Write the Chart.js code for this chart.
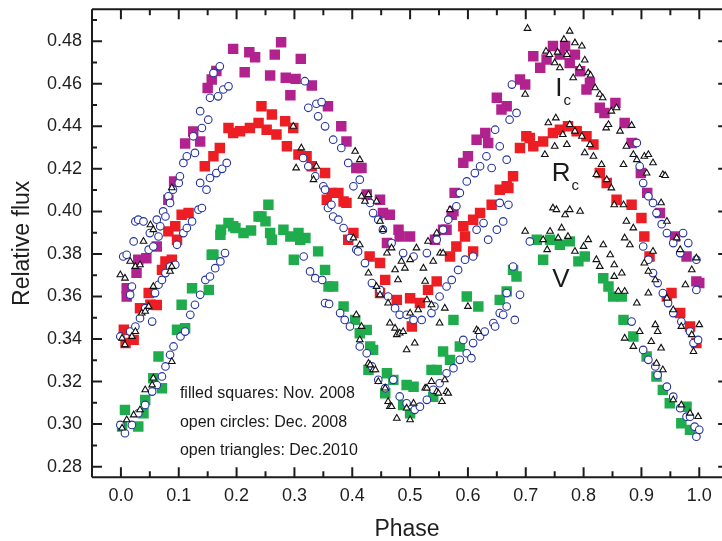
<!DOCTYPE html>
<html>
<head>
<meta charset="utf-8">
<script src="https://cdn.jsdelivr.net/npm/chart.js@4.4.1/dist/chart.umd.min.js"></script>
<style>
html,body{margin:0;padding:0;background:#fff;}
canvas{display:block;}
</style>
</head>
<body>
<canvas id="c" width="722" height="541"></canvas>
<script>
// ---------- axis ticks ----------
const xTickValues = [0.0,0.1,0.2,0.3,0.4,0.5,0.6,0.7,0.8,0.9,1.0];
const xTickLabels = ['0.0','0.1','0.2','0.3','0.4','0.5','0.6','0.7','0.8','0.9','1.0'];
const yTickValues = [0.28,0.30,0.32,0.34,0.36,0.38,0.40,0.42,0.44,0.46,0.48];
const yTickLabels = ['0.28','0.30','0.32','0.34','0.36','0.38','0.40','0.42','0.44','0.46','0.48'];
const xMinorValues = [0.05,0.15,0.25,0.35,0.45,0.55,0.65,0.75,0.85,0.95];
const yMinorValues = [0.29,0.31,0.33,0.35,0.37,0.39,0.41,0.43,0.45,0.47,0.49];

// ---------- filled squares: Nov. 2008 [phase, flux] ----------
const squaresIc = [[0.010,0.3600],[0.013,0.3616],[0.010,0.3639],[0.027,0.3711],[0.030,0.3773],[0.044,0.3780],[0.062,0.3835],[0.082,0.4055],[0.092,0.4141],[0.111,0.4319],[0.125,0.4376],[0.137,0.4329],[0.150,0.4580],[0.157,0.4620],[0.165,0.4660],[0.194,0.4764],[0.214,0.4654],[0.222,0.4748],[0.232,0.4725],[0.258,0.4639],[0.266,0.4737],[0.277,0.4795],[0.285,0.4628],[0.293,0.4546],[0.302,0.4623],[0.311,0.4717],[0.330,0.4592],[0.358,0.4494],[0.381,0.4400],[0.390,0.4329],[0.407,0.4204],[0.416,0.4204],[0.425,0.4079],[0.448,0.4055],[0.453,0.3992],[0.460,0.3851],[0.465,0.3984],[0.480,0.3914],[0.482,0.3882],[0.500,0.3882],[0.543,0.3867],[0.557,0.3914],[0.563,0.3914],[0.572,0.3984],[0.575,0.4000],[0.577,0.4087],[0.592,0.4228],[0.600,0.4259],[0.615,0.4337],[0.630,0.4369],[0.635,0.4322],[0.650,0.4534],[0.658,0.4479],[0.667,0.4494],[0.690,0.4620],[0.699,0.4596],[0.713,0.4729],[0.725,0.4675],[0.736,0.4714],[0.747,0.4777],[0.759,0.4737],[0.768,0.4777],[0.776,0.4698],[0.785,0.4737],[0.794,0.4659],[0.805,0.4573],[0.811,0.4604],[0.828,0.4487],[0.836,0.4463],[0.855,0.4510],[0.871,0.4416],[0.883,0.4322],[0.899,0.4180],[0.910,0.4087],[0.932,0.3992],[0.958,0.3882],[0.978,0.3788],[0.995,0.3671],[1.000,0.3663]];
const squaresRc = [[0.005,0.3444],[0.008,0.3381],[0.022,0.3396],[0.033,0.3545],[0.048,0.3616],[0.051,0.3561],[0.062,0.3560],[0.071,0.3725],[0.077,0.3765],[0.082,0.3906],[0.088,0.3773],[0.094,0.3930],[0.097,0.3867],[0.105,0.3984],[0.117,0.3992],[0.145,0.4212],[0.160,0.4259],[0.171,0.4298],[0.186,0.4392],[0.194,0.4369],[0.206,0.4377],[0.223,0.4392],[0.238,0.4416],[0.243,0.4494],[0.252,0.4384],[0.261,0.4455],[0.269,0.4361],[0.284,0.4424],[0.287,0.4306],[0.298,0.4392],[0.307,0.4267],[0.321,0.4259],[0.330,0.4212],[0.353,0.4180],[0.356,0.4055],[0.364,0.4087],[0.376,0.4087],[0.385,0.4047],[0.390,0.4040],[0.393,0.3867],[0.402,0.3898],[0.430,0.3788],[0.448,0.3757],[0.448,0.3616],[0.457,0.3678],[0.477,0.3584],[0.500,0.3592],[0.503,0.3459],[0.517,0.3569],[0.531,0.3631],[0.546,0.3671],[0.569,0.3788],[0.580,0.3835],[0.592,0.3930],[0.595,0.3882],[0.609,0.3812],[0.609,0.3961],[0.621,0.3992],[0.641,0.4031],[0.655,0.4102],[0.667,0.4118],[0.670,0.4110],[0.678,0.4165],[0.690,0.4298],[0.701,0.4353],[0.707,0.4345],[0.713,0.4306],[0.730,0.4329],[0.747,0.4369],[0.759,0.4384],[0.773,0.4400],[0.788,0.4377],[0.805,0.4353],[0.817,0.4314],[0.828,0.4180],[0.840,0.4133],[0.857,0.4055],[0.883,0.4031],[0.900,0.3969],[0.905,0.3882],[0.914,0.3788],[0.944,0.3600],[0.952,0.3616],[0.967,0.3522],[0.984,0.3459],[0.995,0.3381]];
const squaresV = [[0.002,0.2989],[0.007,0.3067],[0.030,0.2989],[0.039,0.3051],[0.042,0.3114],[0.056,0.3216],[0.065,0.3318],[0.071,0.3169],[0.097,0.3444],[0.105,0.3561],[0.111,0.3451],[0.123,0.3639],[0.152,0.3631],[0.157,0.3796],[0.160,0.3796],[0.172,0.3890],[0.173,0.3914],[0.186,0.3945],[0.194,0.3930],[0.198,0.3922],[0.212,0.3898],[0.225,0.3910],[0.238,0.3976],[0.243,0.3976],[0.250,0.3953],[0.255,0.4031],[0.258,0.3898],[0.261,0.3867],[0.281,0.3914],[0.293,0.3882],[0.299,0.3773],[0.307,0.3898],[0.310,0.3867],[0.319,0.3875],[0.341,0.3812],[0.353,0.3725],[0.359,0.3647],[0.367,0.3647],[0.385,0.3553],[0.405,0.3490],[0.413,0.3427],[0.425,0.3443],[0.428,0.3255],[0.431,0.3365],[0.436,0.3349],[0.457,0.3145],[0.460,0.3239],[0.471,0.3208],[0.488,0.3090],[0.494,0.3184],[0.500,0.3051],[0.506,0.3176],[0.537,0.3255],[0.540,0.3129],[0.546,0.3255],[0.557,0.3341],[0.569,0.3302],[0.575,0.3490],[0.586,0.3365],[0.598,0.3600],[0.618,0.3553],[0.655,0.3584],[0.667,0.3624],[0.678,0.3725],[0.684,0.3694],[0.719,0.3867],[0.730,0.3773],[0.742,0.3867],[0.759,0.3843],[0.776,0.3859],[0.791,0.3765],[0.802,0.3788],[0.834,0.3686],[0.843,0.3647],[0.851,0.3600],[0.866,0.3600],[0.869,0.3490],[0.886,0.3412],[0.909,0.3318],[0.926,0.3224],[0.937,0.3161],[0.949,0.3098],[0.969,0.3004],[0.978,0.3082],[0.984,0.2973]];

// ---------- open circles: Dec. 2008 ----------
const circlesIc = [[0.004,0.3788],[0.010,0.3796],[0.016,0.3608],[0.019,0.3647],[0.022,0.3859],[0.025,0.3953],[0.030,0.3961],[0.039,0.3953],[0.048,0.3820],[0.050,0.3898],[0.056,0.3835],[0.062,0.3961],[0.065,0.3882],[0.068,0.3930],[0.073,0.4000],[0.077,0.3976],[0.082,0.4071],[0.085,0.4040],[0.090,0.4102],[0.100,0.4134],[0.102,0.4165],[0.108,0.4228],[0.114,0.4259],[0.125,0.4353],[0.128,0.4275],[0.137,0.4471],[0.140,0.4392],[0.151,0.4431],[0.154,0.4534],[0.160,0.4651],[0.168,0.4541],[0.171,0.4682],[0.177,0.4573],[0.186,0.4588],[0.318,0.4612],[0.324,0.4487],[0.338,0.4506],[0.341,0.4447],[0.347,0.4514],[0.353,0.4400],[0.367,0.4337],[0.381,0.4298],[0.393,0.4228],[0.402,0.4118],[0.413,0.4149],[0.431,0.4040],[0.436,0.3992],[0.445,0.3961],[0.453,0.3914],[0.468,0.3851],[0.488,0.3804],[0.506,0.3788],[0.529,0.3804],[0.546,0.3867],[0.557,0.3914],[0.566,0.3961],[0.580,0.4024],[0.586,0.4087],[0.598,0.4141],[0.612,0.4180],[0.621,0.4212],[0.632,0.4259],[0.641,0.4204],[0.647,0.4384],[0.655,0.4306],[0.667,0.4243],[0.672,0.4431],[0.676,0.4596],[0.684,0.4463],[0.892,0.4322],[0.897,0.4212],[0.903,0.4133],[0.912,0.4071],[0.920,0.4040],[0.926,0.3992],[0.935,0.3940],[0.944,0.3898],[0.955,0.3851],[0.967,0.3804],[0.972,0.3898],[0.981,0.3851],[0.995,0.3773],[0.995,0.3631]];
const circlesRc = [[-0.001,0.3412],[0.016,0.3435],[0.025,0.3459],[0.033,0.3498],[0.042,0.3545],[0.054,0.3482],[0.059,0.3616],[0.065,0.3655],[0.071,0.3678],[0.077,0.3710],[0.085,0.3741],[0.094,0.3749],[0.097,0.3843],[0.108,0.3898],[0.114,0.3922],[0.123,0.3953],[0.134,0.4008],[0.137,0.4134],[0.140,0.4016],[0.148,0.4102],[0.154,0.4157],[0.165,0.4180],[0.175,0.4200],[0.183,0.4228],[0.315,0.4251],[0.324,0.4212],[0.336,0.4165],[0.350,0.4118],[0.353,0.4102],[0.358,0.4016],[0.364,0.4031],[0.367,0.3976],[0.376,0.3961],[0.385,0.3922],[0.396,0.3875],[0.407,0.3820],[0.410,0.3812],[0.422,0.3757],[0.434,0.3663],[0.448,0.3631],[0.462,0.3600],[0.474,0.3545],[0.482,0.3514],[0.494,0.3514],[0.506,0.3490],[0.520,0.3490],[0.537,0.3522],[0.542,0.3553],[0.551,0.3600],[0.563,0.3647],[0.572,0.3678],[0.583,0.3725],[0.595,0.3773],[0.609,0.3788],[0.615,0.3914],[0.627,0.3945],[0.635,0.3867],[0.650,0.3914],[0.655,0.4040],[0.661,0.3953],[0.670,0.4031],[0.903,0.3835],[0.912,0.3773],[0.920,0.3710],[0.928,0.3663],[0.937,0.3616],[0.946,0.3569],[0.955,0.3522],[0.969,0.3482],[0.984,0.3435],[0.990,0.3381],[0.998,0.3396]];
const circlesV = [[-0.001,0.2996],[0.007,0.2957],[0.019,0.2996],[0.030,0.3051],[0.042,0.3090],[0.054,0.3153],[0.062,0.3184],[0.071,0.3224],[0.077,0.3271],[0.085,0.3326],[0.091,0.3365],[0.103,0.3412],[0.111,0.3435],[0.120,0.3514],[0.128,0.3561],[0.137,0.3608],[0.146,0.3678],[0.154,0.3694],[0.163,0.3733],[0.172,0.3765],[0.180,0.3804],[0.316,0.3788],[0.327,0.3718],[0.336,0.3686],[0.348,0.3678],[0.353,0.3569],[0.360,0.3565],[0.379,0.3522],[0.387,0.3490],[0.396,0.3459],[0.413,0.3365],[0.425,0.3333],[0.434,0.3271],[0.445,0.3208],[0.457,0.3169],[0.471,0.3208],[0.482,0.3130],[0.494,0.3098],[0.508,0.3067],[0.517,0.3082],[0.529,0.3114],[0.540,0.3161],[0.551,0.3192],[0.563,0.3239],[0.575,0.3263],[0.586,0.3302],[0.592,0.3396],[0.598,0.3333],[0.606,0.3310],[0.609,0.3381],[0.621,0.3412],[0.629,0.3435],[0.644,0.3475],[0.647,0.3459],[0.655,0.3522],[0.661,0.3514],[0.667,0.3553],[0.667,0.3616],[0.678,0.3741],[0.681,0.3490],[0.690,0.3608],[0.707,0.3859],[0.883,0.3482],[0.903,0.3349],[0.912,0.3302],[0.924,0.3271],[0.928,0.3231],[0.944,0.3176],[0.955,0.3129],[0.967,0.3075],[0.978,0.3035],[0.984,0.3035],[0.992,0.2988],[0.995,0.2941],[1.000,0.2973]];

// ---------- open triangles: Dec. 2010 ----------
const trianglesIc = [[-0.001,0.3702],[0.007,0.3686],[0.016,0.3765],[0.025,0.3741],[0.033,0.3749],[0.039,0.3859],[0.051,0.3937],[0.056,0.3914],[0.088,0.4111],[0.405,0.4282],[0.413,0.4243],[0.416,0.4071],[0.422,0.4047],[0.428,0.4079],[0.442,0.4047],[0.448,0.3953],[0.453,0.3914],[0.460,0.3804],[0.468,0.3828],[0.474,0.3725],[0.479,0.3678],[0.485,0.3765],[0.491,0.3733],[0.500,0.3773],[0.511,0.3828],[0.523,0.3733],[0.531,0.3859],[0.540,0.3765],[0.546,0.3898],[0.552,0.3804],[0.557,0.3804],[0.569,0.4008],[0.699,0.4550],[0.703,0.4860],[0.735,0.4753],[0.741,0.4737],[0.750,0.4698],[0.755,0.4748],[0.759,0.4675],[0.766,0.4808],[0.771,0.4737],[0.776,0.4847],[0.782,0.4628],[0.785,0.4792],[0.793,0.4675],[0.797,0.4777],[0.802,0.4711],[0.808,0.4651],[0.812,0.4640],[0.820,0.4581],[0.828,0.4550],[0.833,0.4534],[0.839,0.4392],[0.843,0.4408],[0.848,0.4471],[0.857,0.4487],[0.863,0.4377],[0.869,0.4220],[0.874,0.4306],[0.883,0.4404],[0.886,0.4267],[0.892,0.4243],[0.905,0.4259],[0.909,0.4180],[0.912,0.4267],[0.920,0.4228],[0.934,0.4040],[0.937,0.4173],[0.941,0.4168],[0.944,0.3953],[0.961,0.3875],[0.967,0.3820],[0.976,0.3655],[0.987,0.3725],[0.995,0.3781]];
const trianglesRc = [[0.002,0.3404],[0.007,0.3373],[0.019,0.3412],[0.025,0.3435],[0.036,0.3522],[0.042,0.3530],[0.048,0.3553],[0.056,0.3647],[0.085,0.3718],[0.088,0.3741],[0.298,0.4400],[0.303,0.4204],[0.312,0.4298],[0.333,0.4149],[0.338,0.4212],[0.402,0.3875],[0.413,0.3843],[0.428,0.3710],[0.442,0.3647],[0.448,0.3608],[0.462,0.3569],[0.465,0.3475],[0.474,0.3451],[0.477,0.3420],[0.482,0.3428],[0.488,0.3435],[0.494,0.3349],[0.500,0.3522],[0.508,0.3381],[0.514,0.3537],[0.526,0.3671],[0.529,0.3584],[0.537,0.3561],[0.551,0.3475],[0.560,0.3545],[0.600,0.3553],[0.733,0.4267],[0.739,0.4416],[0.750,0.4306],[0.752,0.4439],[0.764,0.4361],[0.771,0.4314],[0.776,0.4408],[0.785,0.4377],[0.797,0.4353],[0.802,0.4275],[0.811,0.4314],[0.817,0.4259],[0.822,0.4173],[0.831,0.4220],[0.840,0.4149],[0.848,0.4110],[0.853,0.4031],[0.869,0.4031],[0.871,0.3875],[0.874,0.3953],[0.880,0.3843],[0.886,0.3922],[0.905,0.3757],[0.912,0.3718],[0.920,0.3812],[0.924,0.3678],[0.944,0.3592],[0.955,0.3537],[0.969,0.3459],[0.987,0.3420],[0.990,0.3341],[1.000,0.3467]];
const trianglesV = [[0.002,0.2981],[0.010,0.3020],[0.022,0.3043],[0.033,0.3067],[0.042,0.3161],[0.054,0.3184],[0.056,0.3216],[0.088,0.3294],[0.407,0.3514],[0.413,0.3396],[0.416,0.3459],[0.428,0.3286],[0.431,0.3278],[0.436,0.3255],[0.440,0.3255],[0.445,0.3200],[0.457,0.3169],[0.462,0.3106],[0.465,0.3082],[0.468,0.3082],[0.477,0.3027],[0.494,0.3075],[0.500,0.3020],[0.506,0.3098],[0.526,0.3169],[0.529,0.3169],[0.537,0.3200],[0.546,0.3153],[0.549,0.3145],[0.555,0.3106],[0.560,0.3208],[0.563,0.3153],[0.566,0.3145],[0.615,0.3443],[0.618,0.3435],[0.699,0.3906],[0.730,0.3867],[0.737,0.3820],[0.742,0.3906],[0.747,0.4016],[0.753,0.4008],[0.756,0.3875],[0.762,0.3922],[0.768,0.3984],[0.773,0.3882],[0.776,0.4008],[0.785,0.3812],[0.794,0.4000],[0.800,0.3835],[0.808,0.3867],[0.822,0.3773],[0.828,0.3741],[0.834,0.3843],[0.846,0.3796],[0.853,0.3749],[0.853,0.3694],[0.860,0.3624],[0.866,0.3710],[0.871,0.3624],[0.871,0.3404],[0.886,0.3365],[0.892,0.3569],[0.897,0.3435],[0.912,0.3616],[0.917,0.3388],[0.924,0.3467],[0.926,0.3286],[0.928,0.3435],[0.934,0.3357],[0.937,0.3255],[0.955,0.3114],[0.969,0.3090],[0.984,0.3051],[0.998,0.3035]];

// ---------- text annotations (anchored in data units) ----------
const noteLines = ['filled squares: Nov. 2008','open circles: Dec. 2008','open triangles: Dec.2010'];
const noteFlux = [0.3142, 0.3006, 0.2874];
const notePhase = 0.102;
const bandNames = ['I','R','V'];
const bandSubs = ['c','c',''];
const bandPhase = [0.751, 0.745, 0.746];
const bandFlux = [0.4543, 0.4143, 0.3644];

const MAGENTA = 'rgb(178,34,142)';
const RED = 'rgb(237,29,36)';
const GREEN = 'rgb(30,172,76)';
const BLUE = 'rgb(36,52,160)';
const FONT = '"Liberation Sans", Arial, Helvetica, sans-serif';

const toXY = arr => arr.map(p => ({x: p[0], y: p[1]}));
const sq = (data, color) => ({data: toXY(data), pointStyle: 'rect', pointRadius: 7.4, pointBackgroundColor: color, pointBorderColor: color, pointBorderWidth: 0, showLine: false, order: 2});
const ci = data => ({data: toXY(data), pointStyle: 'circle', pointRadius: 3.8, pointBackgroundColor: '#fff', pointBorderColor: BLUE, pointBorderWidth: 1.1, showLine: false, order: 1});
const tr = data => ({data: toXY(data), pointStyle: 'triangle', pointRadius: 3.8, pointBackgroundColor: '#fff', pointBorderColor: '#111', pointBorderWidth: 1.1, showLine: false, order: 0});

const framePlugin = {
  id: 'frameTicks',
  afterDatasetsDraw(chart) {
    const {ctx, chartArea: a, scales: {x, y}} = chart;
    const right = x.getPixelForValue(1.05);
    ctx.save();
    ctx.strokeStyle = '#1c1c1c';
    ctx.lineWidth = 2;
    ctx.beginPath();
    ctx.moveTo(a.left, a.top); ctx.lineTo(right, a.top);
    ctx.moveTo(a.left, a.top); ctx.lineTo(a.left, a.bottom);
    ctx.moveTo(a.left, a.bottom); ctx.lineTo(right, a.bottom);
    ctx.moveTo(right, a.top); ctx.lineTo(right, a.bottom);
    const vt = (v, len) => { const p = x.getPixelForValue(v);
      ctx.moveTo(p, a.bottom); ctx.lineTo(p, a.bottom - len);
      ctx.moveTo(p, a.top); ctx.lineTo(p, a.top + len); };
    const ht = (v, len) => { const p = y.getPixelForValue(v);
      ctx.moveTo(a.left, p); ctx.lineTo(a.left + len, p);
      ctx.moveTo(right, p); ctx.lineTo(right - len, p); };
    xTickValues.forEach(v => vt(v, 10));
    xMinorValues.forEach(v => vt(v, 6));
    yTickValues.forEach(v => ht(v, 10));
    yMinorValues.forEach(v => ht(v, 5));
    ctx.stroke();

    // notes
    ctx.fillStyle = '#1a1a1a';
    ctx.textBaseline = 'middle';
    ctx.textAlign = 'left';
    ctx.font = '16px ' + FONT;
    noteLines.forEach((t, i) => ctx.fillText(t, x.getPixelForValue(notePhase), y.getPixelForValue(noteFlux[i])));
    // band labels
    ctx.textBaseline = 'alphabetic';
    bandNames.forEach((t, i) => {
      const px = x.getPixelForValue(bandPhase[i]);
      const py = y.getPixelForValue(bandFlux[i]);
      ctx.font = '26px ' + FONT;
      ctx.fillText(t, px, py);
      const w = ctx.measureText(t).width;
      if (bandSubs[i]) {
        ctx.font = '15px ' + FONT;
        ctx.fillText(bandSubs[i], px + w + 1, py + 9);
      }
    });
    ctx.restore();
  }
};

new Chart(document.getElementById('c'), {
  type: 'scatter',
  data: {
    datasets: [
      tr(trianglesIc), tr(trianglesRc), tr(trianglesV),
      ci(circlesIc), ci(circlesRc), ci(circlesV),
      sq(squaresIc, MAGENTA), sq(squaresRc, RED), sq(squaresV, GREEN)
    ]
  },
  options: {
    responsive: false,
    devicePixelRatio: 1,
    animation: false,
    events: [],
    layout: {autoPadding: false, padding: {top: 9.3, right: 0, left: 0, bottom: 0}},
    plugins: {legend: {display: false}, tooltip: {enabled: false}},
    scales: {
      x: {
        type: 'linear',
        min: -0.05,
        max: 1.0393,
        afterFit: s => { s.height = 63.7; s.paddingLeft = 0; s.paddingRight = 0; },
        afterBuildTicks: s => { s.ticks = xTickValues.map(v => ({value: v})); },
        grid: {display: false, drawTicks: false},
        border: {display: false},
        ticks: {
          padding: 8,
          color: '#1e1e1e',
          font: {family: FONT, size: 18},
          maxRotation: 0,
          callback: (v, i) => xTickLabels[i]
        },
        title: {display: true, text: 'Phase', color: '#1e1e1e', font: {family: FONT, size: 23, lineHeight: 1.0}, padding: {top: 0, bottom: 0}}
      },
      y: {
        type: 'linear',
        min: 0.275,
        max: 0.495,
        afterFit: s => { s.width = 92; s.paddingTop = 0; s.paddingBottom = 0; },
        afterBuildTicks: s => { s.ticks = yTickValues.map(v => ({value: v})); },
        grid: {display: false, drawTicks: false},
        border: {display: false},
        ticks: {
          padding: 10,
          color: '#1e1e1e',
          font: {family: FONT, size: 18},
          callback: (v, i) => yTickLabels[i]
        },
        title: {display: true, text: 'Relative flux', color: '#1e1e1e', font: {family: FONT, size: 23, lineHeight: 1.0}, padding: {top: 11, bottom: 0}}
      }
    }
  },
  plugins: [framePlugin]
});
</script>
</body>
</html>
